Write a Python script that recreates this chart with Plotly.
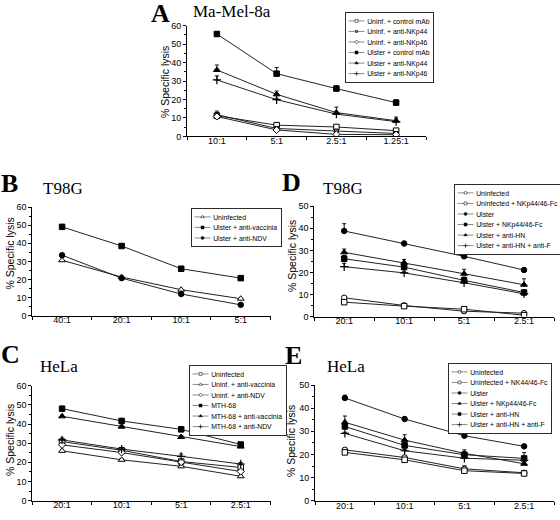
import plotly.graph_objects as go

# ---------------- data ----------------
# Panel A: Ma-Mel-8a
a_cats = ["10:1", "5:1", "2.5:1", "1.25:1"]
a_names = ["Uninf. + control mAb", "Uninf. + anti-NKp44", "Uninf. + anti-NKp46",
           "Ulster + control mAb", "Ulster + anti-NKp44", "Ulster + anti-NKp46"]
a_uninf_ctrl = [11.2, 6.1, 5.1, 3.1]
a_uninf_44 = [11.8, 4.3, 2.9, 1.6]
a_uninf_46 = [10.8, 3.5, 1.1, 0.9]
a_ulster_ctrl = [55.5, 34.0, 25.9, 18.3]
a_ulster_44 = [36.0, 22.8, 12.9, 8.5]
a_ulster_46 = [30.6, 19.9, 12.1, 8.0]
a_err_uninf_ctrl = [2.5, 0.6, 0.6, 0.6]
a_err_uninf_44 = [0.5, 0.5, 0.5, 0.5]
a_err_uninf_46 = [0.5, 0.5, 0.5, 0.5]
a_err_ulster_ctrl = [1.0, 3.3, 1.5, 1.5]
a_err_ulster_44 = [2.7, 1.8, 3.0, 2.0]
a_err_ulster_46 = [2.2, 0.8, 1.0, 1.5]

# Panel B: T98G
b_cats = ["40:1", "20:1", "10:1", "5:1"]
b_names = ["Uninfected", "Ulster + anti-vaccinia", "Ulster + anti-NDV"]
b_uninf = [30.6, 21.3, 14.3, 9.3]
b_vacc = [49.1, 38.5, 25.9, 20.7]
b_ndv = [33.4, 20.7, 11.9, 5.9]

# Panel C: HeLa
c_cats = ["20:1", "10:1", "5:1", "2.5:1"]
c_names = ["Uninfected", "Uninf. + anti-vaccinia", "Uninf. + anti-NDV",
           "MTH-68", "MTH-68 + anti-vaccinia", "MTH-68 + anti-NDV"]
c_uninf = [30.8, 26.3, 20.4, 17.3]
c_uninf_vacc = [26.0, 21.3, 17.9, 12.7]
c_uninf_ndv = [29.1, 25.1, 20.1, 15.2]
c_mth = [48.0, 41.6, 37.2, 29.3]
c_mth_vacc = [44.0, 38.6, 33.2, 28.2]
c_mth_ndv = [31.7, 26.9, 23.1, 19.1]
c_err_uninf = [0.8, 0.6, 0.8, 0.6]
c_err_uninf_vacc = [0.6, 0.6, 0.6, 0.6]
c_err_uninf_ndv = [0.8, 0.6, 0.6, 0.6]
c_err_mth = [1.2, 1.0, 1.3, 1.0]
c_err_mth_vacc = [0.6, 0.6, 0.8, 0.6]
c_err_mth_ndv = [1.0, 0.7, 1.2, 0.8]

# Panel D: T98G
d_cats = ["20:1", "10:1", "5:1", "2.5:1"]
d_names = ["Uninfected", "Uninfected + NKp44/46-Fc", "Ulster", "Ulster + NKp44/46-Fc",
           "Ulster + anti-HN", "Ulster + anti-HN + anti-F"]
d_uninf = [8.5, 5.0, 2.4, 1.5]
d_uninf_fc = [6.5, 4.7, 3.3, 0.6]
d_ulster = [38.8, 33.1, 27.3, 21.1]
d_ulster_fc = [26.2, 22.4, 16.4, 10.9]
d_ulster_hn = [29.1, 24.4, 19.4, 14.4]
d_ulster_hnf = [22.6, 19.8, 15.3, 10.3]
d_err_uninf = [0.4, 0.4, 0.4, 0.4]
d_err_uninf_fc = [0.4, 0.4, 0.6, 0.4]
d_err_ulster = [3.3, 1.0, 0.8, 0.5]
d_err_ulster_fc = [1.5, 1.2, 1.5, 1.0]
d_err_ulster_hn = [1.5, 1.5, 2.0, 2.7]
d_err_ulster_hnf = [1.5, 0.5, 0.5, 0.5]

# Panel E: HeLa
e_cats = ["20:1", "10:1", "5:1", "2.5:1"]
e_names = ["Uninfected", "Uninfected + NK44/46-Fc", "Ulster", "Ulster + NKp44/46-Fc",
           "Ulster + anti-HN", "Ulster + anti-HN + anti-F"]
e_uninf = [22.0, 18.7, 13.8, 12.1]
e_uninf_fc = [20.9, 17.7, 13.0, 11.8]
e_ulster = [44.4, 35.3, 28.1, 23.5]
e_ulster_fc = [33.9, 26.2, 20.5, 16.0]
e_ulster_hn = [32.1, 23.9, 19.9, 18.3]
e_ulster_hnf = [29.1, 21.6, 18.4, 17.5]
e_err_uninf = [0.5, 0.8, 1.3, 0.5]
e_err_uninf_fc = [0.5, 0.5, 0.5, 0.5]
e_err_ulster = [1.2, 0.8, 0.7, 0.5]
e_err_ulster_fc = [2.7, 2.3, 1.5, 2.5]
e_err_ulster_hn = [1.5, 1.0, 1.0, 2.5]
e_err_ulster_hnf = [0.5, 0.5, 0.5, 0.5]

# ---------------- styles ----------------
OPEN_SQ = ("square", "white", 5.5)
FILL_SQ = ("square", "black", 5.5)
OPEN_TRI = ("triangle-up", "white", 6)
FILL_TRI = ("triangle-up", "black", 6)
OPEN_DIA = ("diamond", "white", 5.5)
OPEN_CIR = ("circle", "white", 5.5)
FILL_CIR = ("circle", "black", 5.5)
PLUS = ("cross-thin", "black", 6)
GREY_SQ = ("square", "#8a8a8a", 4)

fig = go.Figure()


def add_panel(n, cats, names, series, errs, styles):
    sfx = "" if n == 1 else str(n)
    for name, vals, err, st in zip(names, series, errs, styles):
        sym, fill, size = st
        ey = None
        if err is not None:
            ey = dict(type="data", array=err, arrayminus=[0] * len(err), symmetric=False,
                      color="#111", thickness=1, width=2)
        fig.add_trace(go.Scatter(
            x=cats, y=vals, name=name, mode="lines+markers",
            line=dict(color="#222", width=1),
            marker=dict(symbol=sym, size=size, color=fill,
                        line=dict(color="black", width=1.2 if sym == "cross-thin" else 1)),
            error_y=ey,
            xaxis="x" + sfx, yaxis="y" + sfx, legend="legend" + sfx,
        ))


add_panel(1, a_cats, a_names,
          [a_uninf_ctrl, a_uninf_44, a_uninf_46, a_ulster_ctrl, a_ulster_44, a_ulster_46],
          [a_err_uninf_ctrl, a_err_uninf_44, a_err_uninf_46, a_err_ulster_ctrl, a_err_ulster_44, a_err_ulster_46],
          [OPEN_SQ, GREY_SQ, OPEN_DIA, FILL_SQ, FILL_TRI, PLUS])
add_panel(2, b_cats, b_names, [b_uninf, b_vacc, b_ndv], [None, None, None],
          [OPEN_TRI, FILL_SQ, FILL_CIR])
add_panel(3, d_cats, d_names,
          [d_uninf, d_uninf_fc, d_ulster, d_ulster_fc, d_ulster_hn, d_ulster_hnf],
          [d_err_uninf, d_err_uninf_fc, d_err_ulster, d_err_ulster_fc, d_err_ulster_hn, d_err_ulster_hnf],
          [OPEN_CIR, OPEN_SQ, FILL_CIR, FILL_SQ, FILL_TRI, PLUS])
add_panel(4, c_cats, c_names,
          [c_uninf, c_uninf_vacc, c_uninf_ndv, c_mth, c_mth_vacc, c_mth_ndv],
          [c_err_uninf, c_err_uninf_vacc, c_err_uninf_ndv, c_err_mth, c_err_mth_vacc, c_err_mth_ndv],
          [OPEN_SQ, OPEN_TRI, OPEN_DIA, FILL_SQ, FILL_TRI, PLUS])
add_panel(5, e_cats, e_names,
          [e_uninf, e_uninf_fc, e_ulster, e_ulster_fc, e_ulster_hn, e_ulster_hnf],
          [e_err_uninf, e_err_uninf_fc, e_err_ulster, e_err_ulster_fc, e_err_ulster_hn, e_err_ulster_hnf],
          [OPEN_CIR, OPEN_SQ, FILL_CIR, FILL_TRI, FILL_SQ, PLUS])

W, H = 560, 520
# plot areas in pixels: (x0, x1, ytop, ybottom, ymax)
areas = {
    1: (187, 426, 25.7, 136.4, 60),
    2: (32.3, 270.5, 207.2, 315.5, 60),
    3: (314.2, 554, 206.3, 316.5, 50),
    4: (32.3, 270.5, 385.7, 500.6, 60),
    5: (315, 554, 385, 500.8, 50),
}
tickfont = dict(family="Arial", size=9, color="black")
layout = dict(width=W, height=H, margin=dict(l=0, r=0, t=0, b=0, autoexpand=False),
              paper_bgcolor="white", plot_bgcolor="white", showlegend=True,
              annotations=[])
for n, (x0, x1, yt, yb, ymax) in areas.items():
    sfx = "" if n == 1 else str(n)
    layout["xaxis" + sfx] = dict(
        domain=[x0 / W, x1 / W], anchor="y" + sfx, type="category",
        range=[-0.5, 3.5], showgrid=False, zeroline=False, showline=True,
        linecolor="black", linewidth=1, ticks="outside", ticklen=3, tickcolor="black",
        tickson="boundaries", tickfont=tickfont, ticklabelstandoff=-4,
        fixedrange=True, automargin=False)
    layout["yaxis" + sfx] = dict(
        domain=[1 - yb / H, 1 - yt / H], anchor="x" + sfx, range=[0, ymax],
        dtick=10, showgrid=False, zeroline=False, showline=True,
        linecolor="black", linewidth=1, ticks="outside", ticklen=3, tickcolor="black",
        minor=dict(dtick=5, ticks="outside", ticklen=2, tickcolor="black"),
        tickfont=tickfont, ticklabelstandoff=0, automargin=False,
        fixedrange=True)

# y-axis titles (x centre, y centre in px)
ytitles = [(165, 82), (9.5, 254), (292, 256), (10, 440), (291, 441)]
for x, y in ytitles:
    layout["annotations"].append(dict(
        text="% Specific lysis", x=x / W, y=1 - y / H, xref="paper", yref="paper",
        xanchor="center", yanchor="middle", showarrow=False, textangle=-90,
        font=dict(family="Arial", size=10.5, color="black")))

legend_pos = {1: (345, 12), 2: (191, 208), 3: (454, 184), 4: (189, 365), 5: (448, 363)}
for n, (lx, ly) in legend_pos.items():
    sfx = "" if n == 1 else str(n)
    layout["legend" + sfx] = dict(
        x=lx / W, y=1 - ly / H, xanchor="left", yanchor="top",
        xref="paper", yref="paper",
        bgcolor="white", bordercolor="#222", borderwidth=1.8,
        font=dict(family="Arial", size=13, color="black"),
        itemwidth=30, tracegroupgap=0)

letters = [("A", 160, 13), ("B", 9, 183), ("D", 291, 182), ("C", 10, 354), ("E", 293, 355)]
titles = [("Ma-Mel-8a", 232, 11), ("T98G", 62.5, 188.5), ("T98G", 343, 188),
          ("HeLa", 58.5, 366.5), ("HeLa", 345.5, 366.5)]
for t, x, y in letters:
    layout["annotations"].append(dict(
        text="<b>" + t + "</b>", x=x / W, y=1 - y / H, xref="paper", yref="paper",
        xanchor="center", yanchor="middle", showarrow=False,
        font=dict(family="Liberation Serif", size=26, color="black")))
for t, x, y in titles:
    layout["annotations"].append(dict(
        text=t, x=x / W, y=1 - y / H, xref="paper", yref="paper",
        xanchor="center", yanchor="middle", showarrow=False,
        font=dict(family="Liberation Serif", size=17, color="black")))

fig.update_layout(**layout)

post = r"""
document.body.style.margin = '0';
document.body.style.padding = '0';
var gd = document.getElementById('{plot_id}');
function shrinkLegends(){
  ['legend','legend2','legend3','legend4','legend5'].forEach(function(c){
    var g = gd.querySelector('g.' + c);
    if(!g) return;
    var t = (g.getAttribute('transform') || '').replace(/\s*scale\([^)]*\)/, '');
    g.setAttribute('transform', t + ' scale(0.53)');
  });
}
shrinkLegends();
gd.on('plotly_afterplot', shrinkLegends);
"""
fig.write_html("out.html", post_script=post, config={"staticPlot": True})
